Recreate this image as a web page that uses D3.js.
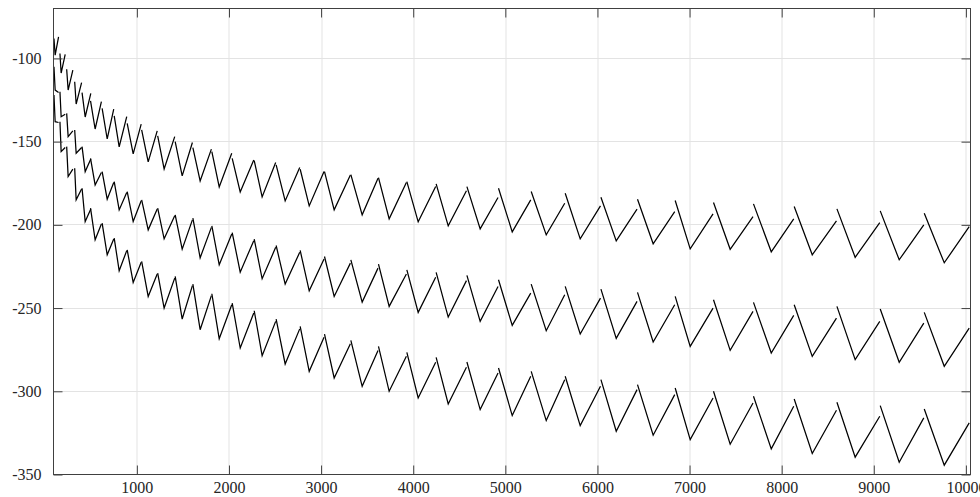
<!DOCTYPE html>
<html>
<head>
<meta charset="utf-8">
<script src="https://cdn.jsdelivr.net/npm/d3@7"></script>
<style>
  body { margin: 0; background: #fff; }
</style>
</head>
<body>
<div id="chart"></div>
<script>
// cycle positions (shared by all three curves)
var peakX = [100, 165, 238, 325, 405, 497, 623, 754, 895, 1052, 1226, 1416, 1608, 1814, 2035, 2274, 2512, 2773, 3037, 3323, 3623, 3931, 4249, 4583, 4926, 5281, 5650, 6038, 6435, 6844, 7260, 7694, 8136, 8600, 9070, 9548];
var troughX = [113, 178, 254, 341, 439, 547, 678, 808, 960, 1123, 1296, 1492, 1687, 1894, 2122, 2360, 2610, 2871, 3142, 3446, 3739, 4054, 4380, 4727, 5075, 5444, 5813, 6204, 6605, 7007, 7441, 7887, 8332, 8798, 9276, 9765];
var endX = [150, 222, 305, 400, 500, 615, 749, 890, 1047, 1221, 1411, 1603, 1809, 2030, 2269, 2507, 2768, 3032, 3318, 3618, 3926, 4244, 4578, 4921, 5276, 5645, 6033, 6430, 6839, 7255, 7689, 8131, 8595, 9065, 9543, 10036];

// top curve
var topPeak = [-88, -97, -106.5, -114, -120.5, -125.5, -130, -134.5, -139, -143, -146.5, -150, -153.6, -156, -160, -161.4, -164, -166.6, -168, -169.8, -171.6, -174, -175.4, -177, -178, -180, -181, -183.4, -184.6, -185.4, -186.6, -187.4, -189, -190.4, -191.6, -193];
var topLow = [-98, -108.8, -119, -127.4, -135.2, -142.4, -148.4, -153.2, -157.4, -162.2, -166.4, -170.6, -173.6, -177.2, -180.2, -183.2, -185.6, -188.6, -191, -194, -196.4, -198.2, -200.6, -202.4, -204.2, -206, -208.4, -209.6, -211.4, -214.4, -214.7, -216.2, -218, -219.5, -221, -222.8];
var topEnd = [-87, -97.5, -107, -114.5, -121, -126, -130.5, -135, -139.5, -143.5, -147, -150.5, -154.5, -157, -161, -162.5, -165.5, -168, -170, -172, -174.5, -177, -179.5, -183.6, -185, -187, -188.6, -190.6, -192, -193.4, -195, -196.4, -197.6, -198.6, -200, -201];

// middle curve
var midPeak = [-105, -120, -133, -143, -153, -160, -168, -174, -180, -185, -190, -194, -196, -200.6, -204.6, -208.6, -212.4, -215.4, -219, -221, -223.6, -227, -228.6, -230.4, -233, -235.6, -237, -238.6, -240.6, -243, -245, -246.6, -248, -249, -250.6, -252.6];
var midLow = [-119, -135, -147, -157, -168, -176, -184.6, -191, -198, -203, -208.4, -214.6, -219.8, -224, -228.4, -232.4, -235.6, -239.6, -243, -246.4, -249, -252.6, -255.4, -258, -260.4, -263.6, -265.6, -268.2, -270.4, -273, -275.4, -277, -279, -281, -282.6, -285];
var midEnd = [-120.5, -133.5, -143.5, -153.5, -160.5, -168.5, -174.5, -180.5, -185.5, -190.5, -194.5, -197, -201.5, -205.5, -209.5, -213.5, -216.5, -220.5, -223, -226, -229.5, -231.5, -233.5, -237, -241, -242, -244, -246, -248, -250, -252, -254.4, -256, -258, -259, -262];

// bottom curve
var botPeak = [-122, -138, -153, -166, -178, -190, -199, -208, -215, -222, -229, -231, -235.6, -241.4, -247, -251.6, -256.6, -261, -265.6, -269.4, -273, -276.6, -279.6, -282.4, -286, -288, -291, -293, -296, -298, -300, -303, -304.6, -306.6, -308.6, -310.6];
var botLow = [-138, -156, -171, -185, -198, -209, -218, -227.6, -234.6, -243, -250, -256.6, -263, -268.4, -274, -278.6, -283.6, -288, -292, -297, -300, -304, -307.6, -311, -314.6, -317.6, -320.6, -324, -326.4, -329, -331.8, -334.6, -337.4, -339.6, -342.6, -344.4];
var botEnd = [-138.5, -153.5, -166.5, -178.5, -190.5, -199.5, -208.5, -215.5, -222.5, -229.5, -232, -236.5, -242.5, -248, -253, -258, -262.5, -267.5, -271.5, -275.5, -279, -282.5, -285.5, -289, -291, -293, -297, -299, -302, -304, -307, -309, -311.4, -315, -316, -319];

var xTicks = [1000, 2000, 3000, 4000, 5000, 6000, 7000, 8000, 9000, 10000];
var yTicks = [-350, -300, -250, -200, -150, -100];

var FONT = "'Liberation Serif', 'Times New Roman', 'DejaVu Serif', serif";

var margin = {
    top: 8.5,
    right: 9.5,
    bottom: 22.5,
    left: 53.5
};

var width = 980 - margin.left - margin.right,
    height = 497 - margin.top - margin.bottom;

var svg = d3.select("#chart").append("svg")
    .attr("width", 980)
    .attr("height", 497)
    .append("g")
    .attr("transform", "translate(" + margin.left + "," + margin.top + ")");

var x = d3.scaleLinear().domain([95, 10050]).range([0, width]);
var y = d3.scaleLinear().domain([-350, -70]).range([height, 0]);

//grid
svg.append("g")
    .selectAll("line")
    .data(xTicks)
    .enter().append("line")
    .attr("x1", function (d) { return Math.round(x(d)) + 0.5; })
    .attr("x2", function (d) { return Math.round(x(d)) + 0.5; })
    .attr("y1", 0)
    .attr("y2", height)
    .style("stroke", "#e3e3e3");

svg.append("g")
    .selectAll("line")
    .data(yTicks)
    .enter().append("line")
    .attr("y1", function (d) { return Math.round(y(d)); })
    .attr("y2", function (d) { return Math.round(y(d)); })
    .attr("x1", 0)
    .attr("x2", width)
    .style("stroke", "#e3e3e3");

//one V per cycle, broken between cycles
function cycles(peak, low, end) {
    return peakX.map(function (d, i) {
        return [[peakX[i], peak[i]], [troughX[i], low[i]], [endX[i], end[i]]];
    });
}

var line = d3.line()
    .x(function (d) { return x(d[0]); })
    .y(function (d) { return y(d[1]); });

var series = [
    cycles(topPeak, topLow, topEnd),
    cycles(midPeak, midLow, midEnd),
    cycles(botPeak, botLow, botEnd)
];

series.forEach(function (s) {
    svg.append("g")
        .selectAll("path")
        .data(s)
        .enter().append("path")
        .attr("d", line)
        .style("fill", "none")
        .style("stroke", "#000")
        .style("stroke-width", 1.25);
});

//axes with inward ticks, matlab style box
var tickLen = 9;

function styleAxis(g) {
    g.select(".domain").remove();
    g.selectAll("line").style("stroke", "#404040");
    g.selectAll("text")
        .style("font-family", FONT)
        .style("font-size", "16px")
        .style("fill", "#262626");
}

svg.append("g")
    .attr("transform", "translate(0," + height + ")")
    .call(d3.axisBottom(x).tickValues(xTicks).tickSize(-tickLen).tickPadding(7).tickFormat(function (d) { return String(d); }))
    .call(styleAxis);

svg.append("g")
    .call(d3.axisTop(x).tickValues(xTicks).tickSize(-tickLen).tickFormat(""))
    .call(styleAxis);

svg.append("g")
    .call(d3.axisLeft(y).tickValues(yTicks).tickSize(-tickLen).tickPadding(12).tickFormat(function (d) { return String(d); }))
    .call(styleAxis);

svg.append("g")
    .attr("transform", "translate(" + width + ",0)")
    .call(d3.axisRight(y).tickValues(yTicks).tickSize(-tickLen).tickFormat(""))
    .call(styleAxis);

svg.append("rect")
    .attr("x", 0)
    .attr("y", 0)
    .attr("width", width)
    .attr("height", height)
    .style("fill", "none")
    .style("stroke", "#404040")
    .style("stroke-width", 1);
</script>
</body>
</html>
